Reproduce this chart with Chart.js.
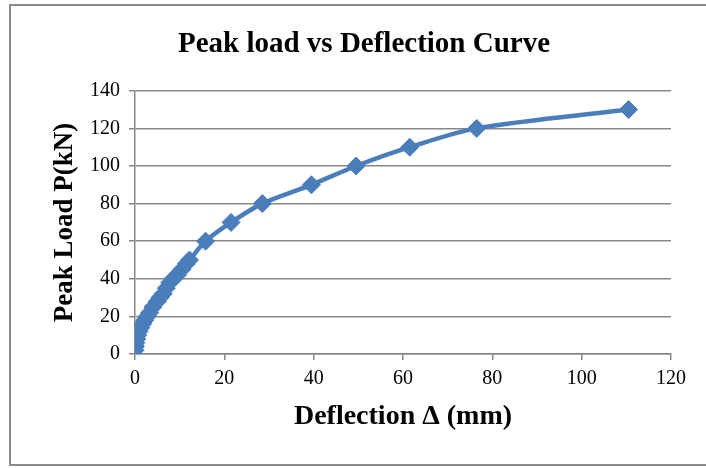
<!DOCTYPE html>
<html>
<head>
<meta charset="utf-8">
<script src="https://cdn.jsdelivr.net/npm/chart.js@4"></script>
<style>
  html, body { margin: 0; padding: 0; background: #fff; }
  #wrap { position: relative; width: 706px; height: 468px; overflow: hidden; }
  #frame { position: absolute; left: 9px; top: 4px; width: 710px; height: 462px; border: 2px solid #8a8a8a; box-sizing: border-box; }
  canvas { position: absolute; left: 0; top: 0; }
</style>
</head>
<body>
<div id="wrap">
  <div id="frame"></div>
  <canvas id="chart" width="706" height="468"></canvas>
</div>
<script>
  // deflection (mm) and peak load (kN)
  const deflection = [0, 0.1, 0.2, 0.4, 0.6, 0.9, 1.3, 1.7, 2.2, 2.7, 3.3, 4.0, 5.0, 5.6, 6.3, 7.0, 7.8, 8.5, 9.5, 10.5, 11.5, 12.2, 15.8, 21.5, 28.5, 39.5, 49.5, 61.5, 76.5, 110.5];
  const peakLoad   = [2, 4, 6, 8, 10, 12, 14, 16, 18, 20, 22, 25, 28, 30, 32, 35, 38, 40, 42, 45, 48, 50, 60, 70, 80, 90, 100, 110, 120, 130];
  const xTicks = [0, 20, 40, 60, 80, 100, 120];
  const yTicks = [0, 20, 40, 60, 80, 100, 120, 140];

  const blue = '#4a7ebb';
  const gridGray = '#878787';
  const serif = "'Liberation Serif', 'Times New Roman', serif";

  const points = deflection.map((d, i) => ({ x: d, y: peakLoad[i] }));

  // title sits a bit right of the canvas centre, like the original
  const shiftTitle = {
    id: 'shiftTitle',
    afterLayout(chart) {
      const t = chart.titleBlock;
      if (t) { t.left = 22; t.right = 706; }
    }
  };

  new Chart(document.getElementById('chart'), {
    type: 'scatter',
    data: {
      datasets: [{
        data: points,
        showLine: true,
        borderColor: blue,
        backgroundColor: blue,
        borderWidth: 4.5,
        tension: 0.3,
        pointStyle: 'rectRot',
        pointRadius: 9,
        pointBorderWidth: 1,
        pointBackgroundColor: blue,
        pointBorderColor: blue
      }]
    },
    options: {
      responsive: false,
      animation: false,
      layout: { padding: { left: 22, right: 35, top: 0, bottom: 0 } },
      plugins: {
        legend: { display: false },
        tooltip: { enabled: false },
        title: {
          display: true,
          text: 'Peak load vs Deflection Curve',
          color: '#000',
          font: { family: serif, size: 29, weight: 'bold', lineHeight: 1.2 },
          padding: { top: 27, bottom: 29 }
        }
      },
      scales: {
        x: {
          type: 'linear',
          min: 0,
          max: 120,
          afterBuildTicks: s => { s.ticks = xTicks.map(v => ({ value: v })); },
          afterFit: s => { s.height = 114; },
          border: { color: gridGray, width: 1.5 },
          grid: { drawOnChartArea: false, color: gridGray, tickLength: 6, lineWidth: 1.5 },
          ticks: { color: '#000', padding: 7, font: { family: serif, size: 20 } },
          title: {
            display: true,
            text: 'Deflection Δ (mm)',
            color: '#000',
            font: { family: serif, size: 28, weight: 'bold', lineHeight: 1.2 },
            padding: { top: 0, bottom: 34 }
          }
        },
        y: {
          type: 'linear',
          min: 0,
          max: 140,
          afterBuildTicks: s => { s.ticks = yTicks.map(v => ({ value: v })); },
          afterFit: s => { s.width = 113; },
          border: { color: gridGray, width: 1.5 },
          grid: { color: gridGray, tickLength: 6, lineWidth: 1.5 },
          ticks: { color: '#000', padding: 9, font: { family: serif, size: 20 } },
          title: {
            display: true,
            text: 'Peak Load P(kN)',
            color: '#000',
            font: { family: serif, size: 27, weight: 'bold', lineHeight: 1.2 },
            padding: { top: 27, bottom: 0 }
          }
        }
      }
    },
    plugins: [shiftTitle]
  });
</script>
</body>
</html>
